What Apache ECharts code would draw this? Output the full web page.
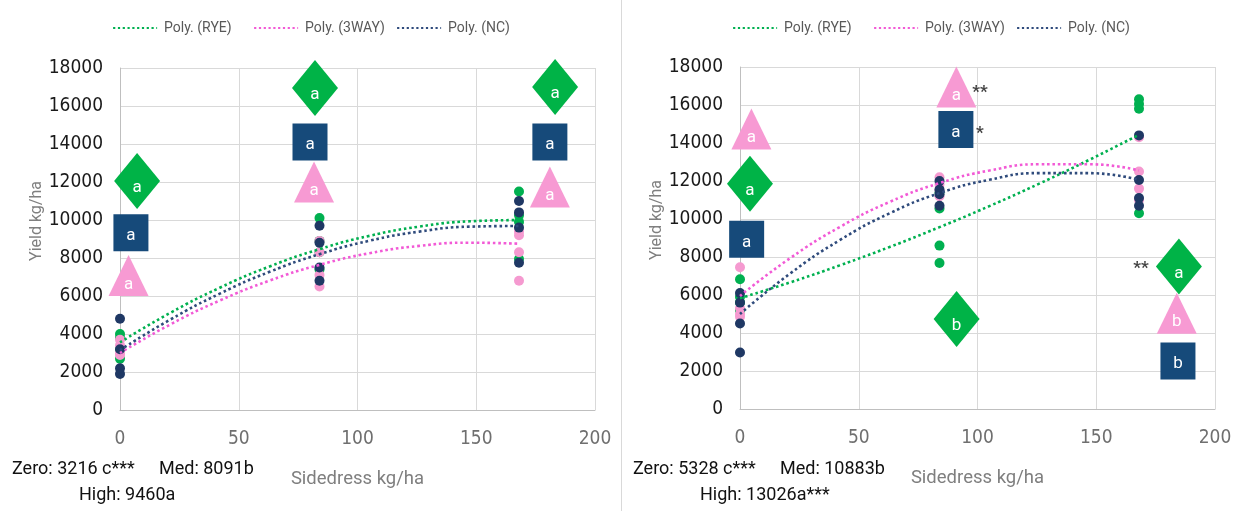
<!DOCTYPE html>
<html><head><meta charset="utf-8">
<script src="https://cdn.jsdelivr.net/npm/echarts@6/dist/echarts.min.js"></script>
<style>html,body{margin:0;padding:0;background:#fff}#c{width:1241px;height:511px}</style>
</head><body><div id="c"></div>
<script>
// ---------- data ----------
const xTickStep = 50;
const yTickStep = 2000;
const trendX = [0, 21, 42, 63, 84, 105, 126, 147, 168];
const seriesNames = ['Poly. (RYE)', 'Poly. (3WAY)', 'Poly. (NC)'];

// Left panel: observed yields [sidedress, yield]
const L_RYE = [[0,4000],[0,3800],[0,3200],[0,2700],[84,10100],[84,8900],[84,8300],[84,7400],[168,11500],[168,10250],[168,9900],[168,7950]];
const L_3WAY = [[0,3700],[0,3400],[0,3000],[0,2900],[84,8900],[84,8300],[84,7100],[84,6500],[168,9400],[168,9200],[168,8300],[168,6800]];
const L_NC = [[0,4800],[0,3200],[0,2200],[0,1900],[84,9700],[84,8800],[84,7500],[84,6800],[168,11000],[168,10400],[168,9600],[168,7750]];
// Left panel: polynomial trend read at trendX
const L_RYE_trend = [3560, 5100, 6435, 7556, 8466, 9165, 9653, 9930, 9996];
const L_3WAY_trend = [3000, 4491, 5761, 6811, 7640, 8249, 8637, 8805, 8751];
const L_NC_trend = [3150, 4747, 6123, 7274, 8200, 8908, 9389, 9649, 9685];
// Left panel: letter groups [x, y, letter]
const L_RYE_letters = [[7.2, 12050, 'a'], [82.1, 16950, 'a'], [183.2, 17000, 'a']];
const L_NC_letters = [[4.6, 9330, 'a'], [80, 14100, 'a'], [181, 14100, 'a']];
const L_3WAY_letters = [[3.6, 7080, 'a'], [81.7, 12000, 'a'], [181, 11740, 'a']];
const L_notes = ['Zero: 3216 c***', 'Med: 8091b', 'High: 9460a'];

// Right panel
const R_RYE = [[0,6830],[0,5900],[0,5600],[0,5200],[84,11400],[84,10550],[84,8600],[84,7680],[168,16300],[168,16050],[168,15800],[168,10300]];
const R_3WAY = [[0,7460],[0,5300],[0,5000],[0,4850],[84,12200],[84,11800],[84,11500],[84,11200],[168,14300],[168,12500],[168,11600],[168,11000]];
const R_NC = [[0,6100],[0,5600],[0,4500],[0,2970],[84,12000],[84,11550],[84,11300],[84,10700],[168,14400],[168,12050],[168,11100],[168,10700]];
const R_RYE_trend = [5830, 6659, 7559, 8528, 9570, 10679, 11860, 13111, 14436];
const R_3WAY_trend = [5950, 7929, 9579, 10899, 11890, 12550, 12882, 12884, 12556];
const R_NC_trend = [5000, 7120, 8887, 10300, 11363, 12065, 12416, 12415, 12065];
const R_RYE_letters = [[4.2, 11855, 'a'], [91.2, 4742, 'b'], [184.8, 7497, 'a']];
const R_NC_letters = [[2.8, 8930, 'a'], [90.9, 14715, 'a'], [184.4, 2529, 'b']];
const R_3WAY_letters = [[4.8, 14736, 'a'], [91.1, 16950, 'a'], [183.9, 5042, 'b']];
const R_stars = [[101, 16650, '**'], [101, 14500, '*'], [168.8, 7380, '**']];
const R_notes = ['Zero: 5328 c***', 'Med: 10883b', 'High: 13026a***'];

// ---------- style ----------
const C = {
  ryeDot: '#00B050', wayDot: '#F59AD0', ncDot: '#1F3864',
  ryeLine: '#00B050', wayLine: '#F25AD6', ncLine: '#2F4B7C',
  diamond: '#00B347', square: '#164A7A', triangle: '#F79AD3'
};
const SANS = 'Roboto, "Open Sans", sans-serif';
const TICKF = '"Liberation Sans Narrow", "DejaVu Sans Condensed", Roboto, sans-serif';

const panels = [
  {dots: [L_RYE, L_3WAY, L_NC], trends: [L_RYE_trend, L_3WAY_trend, L_NC_trend],
   letters: [L_RYE_letters, L_3WAY_letters, L_NC_letters], stars: [], notes: L_notes,
   grid: {left: 120, top: 68, width: 475, height: 342}, legendX: [112, 253, 396], notesPos: [[12, 471], [159, 471], [79, 497]]},
  {dots: [R_RYE, R_3WAY, R_NC], trends: [R_RYE_trend, R_3WAY_trend, R_NC_trend],
   letters: [R_RYE_letters, R_3WAY_letters, R_NC_letters], stars: R_stars, notes: R_notes,
   grid: {left: 740, top: 67, width: 475, height: 342}, legendX: [732, 873, 1016], notesPos: [[633, 471], [780, 471], [700, 497]]}
];

const option = {
  backgroundColor: '#fff',
  animation: false,
  grid: [], xAxis: [], yAxis: [], series: [], legend: [], graphic: []
};

const dotColors = [C.ryeDot, C.wayDot, C.ncDot];
const lineColors = [C.ryeLine, C.wayLine, C.ncLine];
const shapeDefs = [
  {symbol: 'diamond', size: [46, 56], color: C.diamond, offset: [0, 7]},
  {symbol: 'triangle', size: [40, 41], color: C.triangle, offset: [0, 9]},
  {symbol: 'rect', size: [35, 37], color: C.square, offset: [0, 3]}
];

panels.forEach((p, i) => {
  option.grid.push(Object.assign({containLabel: false}, p.grid));
  option.xAxis.push({
    gridIndex: i, type: 'value', min: 0, max: 200, interval: xTickStep,
    name: 'Sidedress kg/ha', nameLocation: 'middle', nameGap: 60,
    nameTextStyle: {fontFamily: SANS, fontSize: 18.5, color: '#7F7F7F'},
    axisLine: {show: true, onZero: false, lineStyle: {color: '#BFBFBF', width: 1}},
    axisTick: {show: false},
    splitLine: {show: true, lineStyle: {color: '#D9D9D9', width: 1}},
    axisLabel: {margin: 20, fontFamily: TICKF, fontSize: 19, color: '#6F6F6F', formatter: v => String(v)}
  });
  option.yAxis.push({
    gridIndex: i, type: 'value', min: 0, max: 18000, interval: yTickStep,
    name: 'Yield kg/ha', nameLocation: 'middle', nameGap: 74, nameRotate: 90,
    nameTextStyle: {fontFamily: SANS, fontSize: 16, color: '#7F7F7F', padding: [0, 0, 0, 36]},
    axisLine: {show: true, lineStyle: {color: '#BFBFBF', width: 1}},
    axisTick: {show: false},
    splitLine: {show: true, lineStyle: {color: '#D9D9D9', width: 1}},
    axisLabel: {margin: 17, fontFamily: TICKF, fontSize: 19, color: '#1A1A1A', formatter: v => String(v)}
  });
  // dots
  p.dots.forEach((d, k) => {
    option.series.push({
      type: 'scatter', name: 'obs' + i + k, xAxisIndex: i, yAxisIndex: i,
      data: d, symbolSize: 10, itemStyle: {color: dotColors[k], opacity: 1}, z: 2 + (k === 2 ? 1 : 0)
    });
  });
  // trends
  p.trends.forEach((t, k) => {
    option.series.push({
      type: 'line', name: seriesNames[k], xAxisIndex: i, yAxisIndex: i,
      data: trendX.map((x, j) => [x, t[j]]), smooth: 0.5, symbol: 'none',
      lineStyle: {color: lineColors[k], width: 2.6, type: [2.6, 2.8]},
      itemStyle: {color: lineColors[k]}, z: 4
    });
  });
  // letter shapes
  p.letters.forEach((l, k) => {
    const s = shapeDefs[k];
    option.series.push({
      type: 'scatter', name: 'letters' + i + k, xAxisIndex: i, yAxisIndex: i,
      data: l, symbol: s.symbol, symbolSize: s.size, clip: false,
      itemStyle: {color: s.color, opacity: 1}, z: 6,
      label: {show: true, position: 'inside', offset: s.offset, formatter: q => q.value[2],
        color: '#fff', fontFamily: SANS, fontSize: 17}
    });
  });
  if (p.stars.length) {
    option.series.push({
      type: 'scatter', name: 'stars' + i, xAxisIndex: i, yAxisIndex: i,
      data: p.stars, symbolSize: 2, itemStyle: {color: 'rgba(0,0,0,0)'}, z: 7,
      label: {show: true, position: 'inside', formatter: q => q.value[2],
        color: '#111', fontFamily: SANS, fontSize: 17, fontWeight: 'bold'}
    });
  }
  // legends
  p.legendX.forEach((lx, k) => {
    option.legend.push({
      data: [seriesNames[k]], left: lx, top: 21, padding: 0,
      itemWidth: 44, itemHeight: 14, itemGap: 0, selectedMode: false,
      itemStyle: {opacity: 0},
      lineStyle: {width: 2.2, type: [2.2, 2.6]},
      textStyle: {fontFamily: SANS, fontSize: 14, color: '#595959', padding: [0, 0, 0, 2]}
    });
  });
  // notes
  p.notes.forEach((n, k) => {
    option.graphic.push({
      type: 'text', left: p.notesPos[k][0], top: p.notesPos[k][1] - 11,
      style: {text: n, fontFamily: SANS, fontSize: 18, fill: '#111'}
    });
  });
});
option.graphic.push({type: 'line', shape: {x1: 621.5, y1: 0, x2: 621.5, y2: 511}, style: {stroke: '#D9D9D9', lineWidth: 1}});

const chart = echarts.init(document.getElementById('c'), null, {renderer: 'canvas'});
chart.setOption(option);
</script></body></html>
